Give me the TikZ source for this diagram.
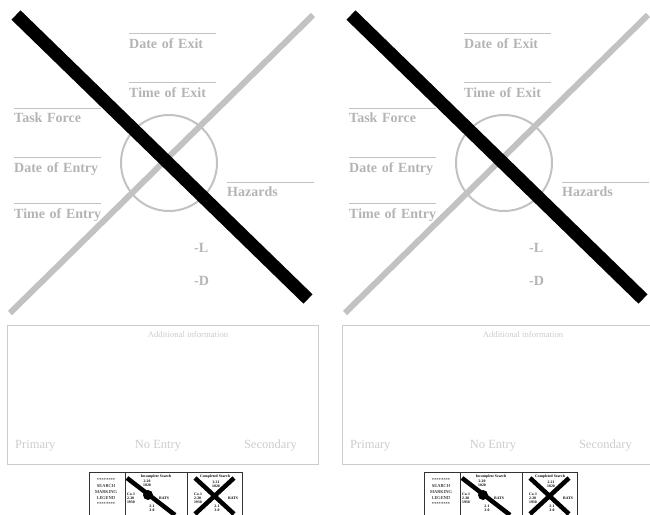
\documentclass[tikz,border=0pt]{standalone}
\usepackage{fontspec}
\setmainfont{Liberation Serif}
\usetikzlibrary{positioning}
\definecolor{markgray}{HTML}{C2C2C2}
\definecolor{textgray}{HTML}{B4B4B4}
\definecolor{boxgray}{HTML}{CCCCCC}

\begin{document}
\begin{tikzpicture}[x=1pt, y=-1pt,
  field/.style={anchor=base west, inner sep=0pt, text width=87pt, align=left,
    font=\fontsize{14}{14}\selectfont\bfseries, text=textgray},
  fieldline/.style={draw=markgray, line width=1pt},
  boxlabel/.style={anchor=base, inner sep=0pt, font=\fontsize{12.5}{12.5}\selectfont, text=boxgray},
  cell/.style={draw=black!80, line width=1pt, anchor=north west, minimum height=60pt, inner sep=0pt},
  tiny/.style={inner sep=0pt, align=center, font=\fontsize{3.8}{4.2}\selectfont\bfseries}]

\useasboundingbox (0,0) rectangle (650,514);
\clip (0,0) rectangle (650,514);

\foreach \dx/\p in {0/a,335/b}{
\begin{scope}[xshift=\dx pt]
% circle in the middle
\node[draw=markgray, line width=2pt, circle, minimum size=96pt, inner sep=0pt] (ring-\p) at (169,163) {};

% fields
\node[field] (dexit-\p) at (129,48)  {Date of Exit};
\node[field] (texit-\p) at (129,97)  {Time of Exit};
\node[field] (tf-\p)    at (14,122)  {Task Force};
\node[field] (dent-\p)  at (14,172)  {Date of Entry};
\node[field] (tent-\p)  at (14,218)  {Time of Entry};
\node[field] (haz-\p)   at (227,196) {Hazards};
\node[field] (lv-\p)    at (194,252) {-L};
\node[field] (dv-\p)    at (194,285) {-D};

\foreach \f in {dexit,texit,tf,dent,tent,haz}
  \draw[fieldline] ([yshift=4pt]\f-\p.north west) -- ([yshift=4pt]\f-\p.north east);

% the two strokes of the X
\coordinate (g1-\p) at (313,15);
\coordinate (g2-\p) at (10,313);
\coordinate (k1-\p) at (16,15);
\coordinate (k2-\p) at (308,299);
\draw[markgray, line width=6pt] (g1-\p) -- (g2-\p);
\draw[black, line width=13pt] (k1-\p) -- (k2-\p);

% box below
\node[draw=boxgray, line width=1.2pt, anchor=north west, minimum width=311pt,
  minimum height=139pt, inner sep=0pt] (info-\p) at (7,325) {};
\node[boxlabel, font=\fontsize{8.7}{8.7}\selectfont] (add-\p) at (188,337) {Additional information};
\node[boxlabel, anchor=base west] (prim-\p) at (15,448) {Primary};
\node[boxlabel] (noent-\p) at (158,448) {No Entry};
\node[boxlabel, anchor=base east] (sec-\p) at (297,448) {Secondary};

% legend
\node[cell, minimum width=36pt] (leg-\p) at (89,472) {};
\node[cell, minimum width=62pt] (inc-\p) at (125,472) {};
\node[cell, minimum width=55pt] (comp-\p) at (187,472) {};
\node[tiny, font=\fontsize{4.6}{5.8}\selectfont] (legtxt-\p) at (106,492)
  {********\\SEARCH\\MARKING\\LEGEND\\********};

\node[tiny] (inchead-\p) at (156,477) {Incomplete Search};
\draw[line width=4.5pt] (127,478) -- (175,515);
\node[fill=black, circle, minimum size=10pt, inner sep=0pt] (dot-\p) at (148,495) {};
\node[tiny] at (147,483) {2-20\\1020};
\node[tiny, align=left] at (131,498) {Co-1\\2-20\\1930};
\node[tiny] at (164,498) {RATS};
\node[tiny] at (152,508) {2-1\\3-0};

\node[tiny] (comphead-\p) at (215,477) {Completed Search};
\draw[line width=4.5pt] (195,478) -- (234,514);
\draw[line width=4.5pt] (234,478) -- (195,514);
\node[tiny] at (216,484) {2-21\\1020};
\node[tiny, align=left] at (198,498) {Co-1\\2-20\\1930};
\node[tiny] at (233,498) {RATS};
\node[tiny] at (217,508) {2-1\\3-0};
\end{scope}
}
\end{tikzpicture}
\end{document}
